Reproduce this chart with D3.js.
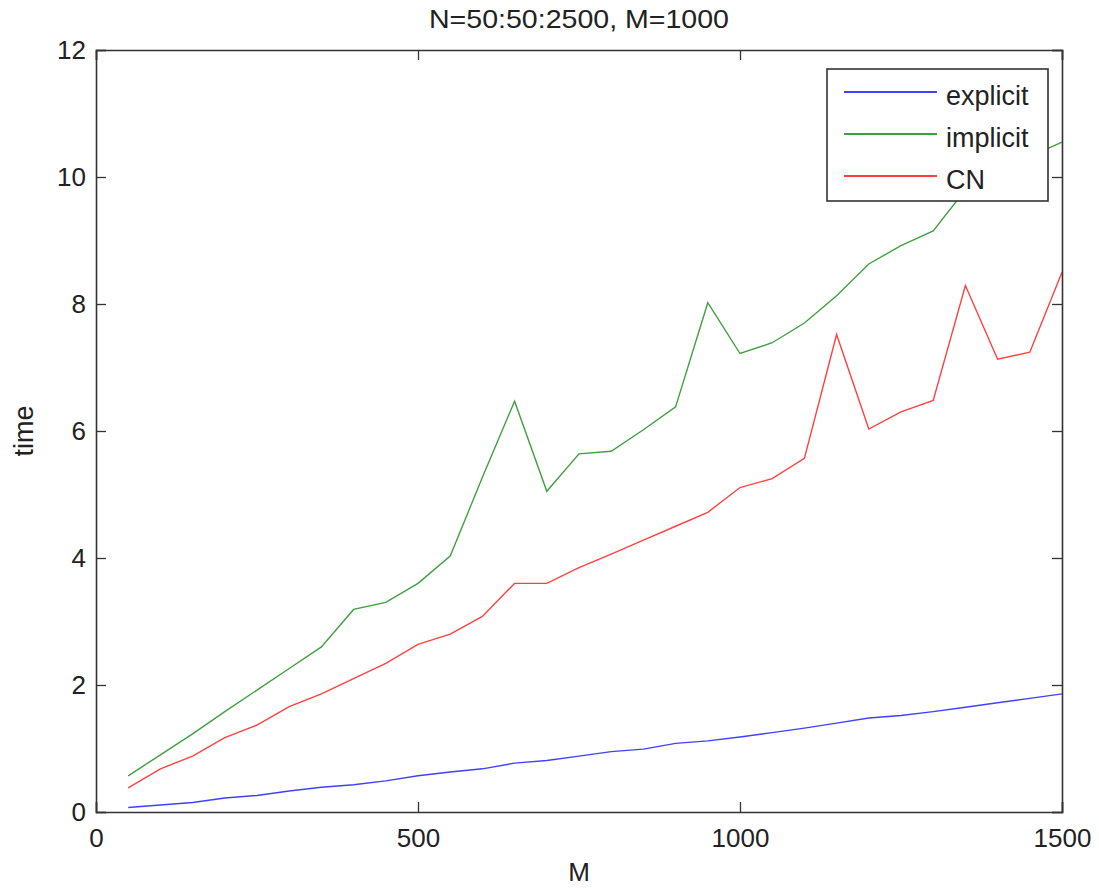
<!DOCTYPE html>
<html>
<head>
<meta charset="utf-8">
<script src="https://cdn.jsdelivr.net/npm/d3@7"></script>
<style>
  body { margin: 0; background: #fff; }
  text { font-family: "Liberation Sans", Arial, sans-serif; fill: #222; }
</style>
</head>
<body>
<div id="chart"></div>
<script>
// data, M = 50:50:1500
var mValues = [50, 100, 150, 200, 250, 300, 350, 400, 450, 500, 550, 600, 650, 700, 750,
  800, 850, 900, 950, 1000, 1050, 1100, 1150, 1200, 1250, 1300, 1350, 1400, 1450, 1500]
var explicitTime = [0.07, 0.11, 0.15, 0.22, 0.26, 0.33, 0.39, 0.43, 0.49, 0.57, 0.63, 0.68, 0.77, 0.81, 0.88,
  0.95, 0.99, 1.08, 1.12, 1.18, 1.25, 1.32, 1.40, 1.48, 1.52, 1.58, 1.65, 1.72, 1.79, 1.86]
var implicitTime = [0.57, 0.90, 1.23, 1.58, 1.92, 2.26, 2.60, 3.19, 3.30, 3.60, 4.03, 5.27, 6.47, 5.05, 5.64,
  5.68, 6.02, 6.38, 8.02, 7.22, 7.39, 7.70, 8.13, 8.63, 8.92, 9.15, 9.80, 10.05, 10.32, 10.55]
var cnTime = [0.38, 0.68, 0.88, 1.17, 1.37, 1.66, 1.86, 2.10, 2.34, 2.64, 2.80, 3.08, 3.60, 3.60, 3.85,
  4.06, 4.28, 4.50, 4.72, 5.11, 5.25, 5.57, 7.52, 6.03, 6.30, 6.48, 8.29, 7.13, 7.24, 8.50]
var seriesNames = ['explicit', 'implicit', 'CN']
var seriesColors = ['#0000ff', '#007f00', '#ff0000']
var xTicks = [0, 500, 1000, 1500]
var yTicks = [0, 2, 4, 6, 8, 10, 12]

var width = 1099, height = 888
var margin = { top: 50, right: 37, bottom: 76, left: 96 }

var svg = d3.select('#chart').append('svg')
  .attr('width', width)
  .attr('height', height)

var x = d3.scaleLinear().domain([0, 1500]).range([margin.left, width - margin.right])
var y = d3.scaleLinear().domain([0, 12]).range([height - margin.bottom, margin.top])

// lines
var allSeries = [explicitTime, implicitTime, cnTime]
var line = d3.line()
  .x(function (d, i) { return x(mValues[i]) })
  .y(function (d) { return y(d) })

var plot = svg.append('g')
plot.selectAll('path')
  .data(allSeries)
  .enter()
  .append('path')
  .attr('d', function (d) { return line(d) })
  .attr('fill', 'none')
  .attr('stroke', function (d, i) { return seriesColors[i] })
  .attr('stroke-width', 1.4)
  .attr('opacity', 0.75)

// axes, ticks pointing inward on all four sides
var tickLen = 10
var xb = svg.append('g').attr('transform', 'translate(0,' + y(0) + ')')
  .call(d3.axisBottom(x).tickValues(xTicks).tickSize(-tickLen).tickFormat(d3.format('d')))
var xt = svg.append('g').attr('transform', 'translate(0,' + y(12) + ')')
  .call(d3.axisTop(x).tickValues(xTicks).tickSize(-tickLen).tickFormat(''))
var yl = svg.append('g').attr('transform', 'translate(' + x(0) + ',0)')
  .call(d3.axisLeft(y).tickValues(yTicks).tickSize(-tickLen).tickPadding(10))
var yr = svg.append('g').attr('transform', 'translate(' + x(1500) + ',0)')
  .call(d3.axisRight(y).tickValues(yTicks).tickSize(-tickLen).tickFormat(''))

;[xb, xt, yl, yr].forEach(function (a) {
  a.select('.domain').attr('stroke', '#333').attr('stroke-width', 1.6)
  a.selectAll('.tick line').attr('stroke', '#333').attr('stroke-width', 1.3)
  a.selectAll('.tick text').style('font-size', '26px').attr('fill', '#222')
    .style('font-family', '"Liberation Sans", Arial, sans-serif')
})
xb.selectAll('.tick text').attr('y', 35).attr('dy', 0)

// title and axis labels
svg.append('text')
  .attr('x', (x(0) + x(1500)) / 2)
  .attr('y', 28)
  .attr('text-anchor', 'middle')
  .style('font-size', '25px')
  .attr('textLength', 300)
  .attr('lengthAdjust', 'spacingAndGlyphs')
  .text('N=50:50:2500, M=1000')
svg.append('text')
  .attr('x', (x(0) + x(1500)) / 2)
  .attr('y', 881)
  .attr('text-anchor', 'middle')
  .style('font-size', '26px')
  .text('M')
svg.append('text')
  .attr('transform', 'translate(33,' + ((y(0) + y(12)) / 2) + ') rotate(-90)')
  .attr('text-anchor', 'middle')
  .style('font-size', '27px')
  .text('time')

// legend
var lg = svg.append('g').attr('transform', 'translate(827,69)')
lg.append('rect')
  .attr('width', 221)
  .attr('height', 132)
  .attr('fill', '#fff')
  .attr('stroke', '#333')
  .attr('stroke-width', 1.6)
var item = lg.selectAll('g.item')
  .data(seriesNames)
  .enter()
  .append('g')
  .attr('class', 'item')
  .attr('transform', function (d, i) { return 'translate(0,' + (23 + i * 42) + ')' })
item.append('line')
  .attr('x1', 17).attr('x2', 110)
  .attr('stroke', function (d, i) { return seriesColors[i] })
  .attr('stroke-width', 1.4)
item.append('text')
  .attr('x', 119)
  .attr('y', 13)
  .style('font-size', '27px')
  .text(function (d) { return d })
</script>
</body>
</html>
